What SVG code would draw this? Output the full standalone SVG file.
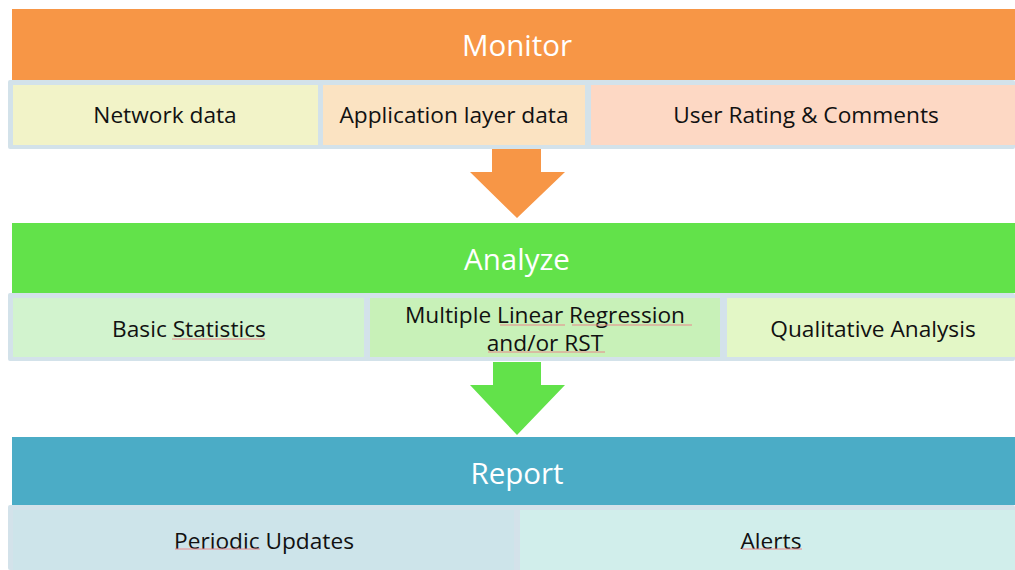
<svg xmlns="http://www.w3.org/2000/svg" width="1015" height="570" viewBox="0 0 1015 570">
<defs>
<style>
.hdr{font-family:"Open Sans","Liberation Sans",sans-serif;font-size:29.5px;fill:#ffffff;text-anchor:middle;dominant-baseline:central}
.lbl{font-family:"Open Sans","Liberation Sans",sans-serif;font-size:22.7px;fill:#111111;text-anchor:middle;dominant-baseline:central}
.row{fill:#D3E2EA}
.sq{stroke:#E8868A;stroke-width:1;fill:none}
</style>
</defs>
<rect x="0" y="0" width="1015" height="570" fill="#ffffff"/>
<g id="monitor">
<rect x="12" y="9" width="1003" height="71" fill="#F79646"/>
<text class="hdr" x="517" y="44">Monitor</text>
</g>
<g id="monitor-row">
<rect class="row" x="8" y="80" width="1007" height="69" rx="2"/>
</g>
<g id="network-data">
<rect x="13" y="85" width="305" height="60" fill="#F2F3C8"/>
<text class="lbl" x="165" y="114">Network data</text>
</g>
<g id="application-layer-data">
<rect x="323" y="85" width="262" height="60" fill="#FBE3C2"/>
<text class="lbl" x="454" y="114">Application layer data</text>
</g>
<g id="user-rating">
<rect x="591" y="85" width="424" height="60" fill="#FDD8C4"/>
<text class="lbl" x="806" y="114">User Rating &amp; Comments</text>
</g>
<g id="analyze">
<rect x="12" y="223" width="1003" height="70" fill="#62E24A"/>
<text class="hdr" x="517" y="258">Analyze</text>
</g>
<g id="analyze-row">
<rect class="row" x="8" y="293" width="1007" height="68" rx="2"/>
</g>
<g id="basic-statistics">
<rect x="13" y="298" width="351" height="59" fill="#D2F3CE"/>
<text class="lbl" x="189" y="328">Basic Statistics</text>
<line class="sq" x1="172" y1="339" x2="265" y2="339"/>
</g>
<g id="mlr">
<rect x="370" y="298" width="350" height="59" fill="#C8F1B8"/>
<text class="lbl" x="545" y="314">Multiple Linear Regression</text>
<text class="lbl" x="545" y="342">and/or RST</text>
<line class="sq" x1="500" y1="325" x2="565" y2="325"/>
<line class="sq" x1="572" y1="325" x2="692" y2="325"/>
<line class="sq" x1="488" y1="352" x2="605" y2="352"/>
</g>
<g id="qualitative-analysis">
<rect x="727" y="298" width="288" height="59" fill="#E3F7C6"/>
<text class="lbl" x="873" y="328">Qualitative Analysis</text>
</g>
<g id="report">
<rect x="12" y="437" width="1003" height="68" fill="#4BACC6"/>
<text class="hdr" x="517" y="472">Report</text>
</g>
<g id="report-row">
<rect class="row" x="8" y="505" width="1007" height="65" rx="2"/>
</g>
<g id="periodic-updates">
<rect x="13" y="510" width="501" height="60" fill="#CDE4EA"/>
<text class="lbl" x="264" y="540">Periodic Updates</text>
<line class="sq" x1="175" y1="549" x2="260" y2="549"/>
</g>
<g id="alerts">
<rect x="520" y="510" width="495" height="60" fill="#D1EEEB"/>
<text class="lbl" x="771" y="540">Alerts</text>
<line class="sq" x1="742" y1="549" x2="802" y2="549"/>
</g>
<g id="connectors">
<polygon points="492,149 541,149 541,172 565,172 517,218 470,172 492,172" fill="#F79646"/>
<polygon points="493,362 541,362 541,385 565,385 517,435 470,385 493,385" fill="#62E24A"/>
</g>
</svg>
